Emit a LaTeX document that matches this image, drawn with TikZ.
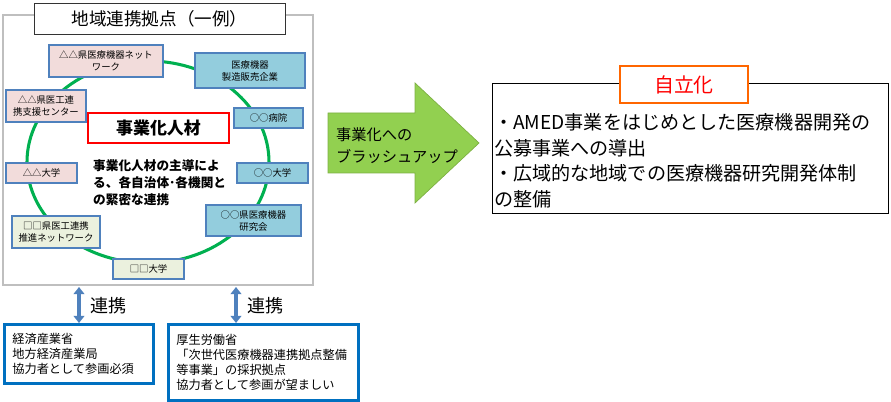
\documentclass[tikz,border=0pt]{standalone}
\usepackage{fontspec}
\setmainfont{Noto Sans CJK JP}
\usetikzlibrary{positioning, arrows.meta}
\definecolor{framegray}{HTML}{BFBFBF}
\definecolor{ringgreen}{HTML}{00B050}
\definecolor{memberblue}{HTML}{4F81BD}
\definecolor{pinkfill}{HTML}{F2DCDB}
\definecolor{bluefill}{HTML}{93CDDD}
\definecolor{creamfill}{HTML}{EBF1DE}
\definecolor{govblue}{HTML}{0070C0}
\definecolor{pitchgreen}{HTML}{92D050}
\definecolor{pitchedge}{HTML}{7DB043}
\definecolor{selforange}{HTML}{FF6600}
\newcommand{\jpsize}[2]{\fontsize{#1}{#2}\selectfont}

\begin{document}
\begin{tikzpicture}[x=0.03cm, y=-0.03cm,
  member/.style={draw=memberblue, line width=1.5pt, align=center,
                 inner sep=1pt, font=\jpsize{8pt}{10.2pt}},
  govbox/.style={draw=govblue, line width=2.4pt, anchor=north west,
                 align=left, inner xsep=0.24cm, inner ysep=0pt,
                 font=\jpsize{10.4pt}{12.8pt}},
  link/.style={{Triangle[length=6pt,width=9pt]}-{Triangle[length=6pt,width=9pt]},
               line width=2.8pt, memberblue},
]
\useasboundingbox (0,0) rectangle (891,402);

% hub frame
\draw[framegray, line width=1.6pt] (3,15) rectangle (313,285);
\node[draw=black!80, line width=0.8pt, fill=white, minimum width=7.53cm,
      minimum height=0.93cm, font=\jpsize{15pt}{18pt}] (hubtitle) at (159.5,18.5) {地域連携拠点（一例）};
\draw[ringgreen, line width=2.6pt] (148,162) ellipse [x radius=3.63cm, y radius=3.03cm];

\node[member, fill=pinkfill, minimum width=3.42cm, minimum height=0.96cm] (nwork1) at (106,61) {△△県医療機器ネット\\ワーク};
\node[member, fill=bluefill, minimum width=3.3cm, minimum height=1.05cm] (maker) at (250,70.5) {医療機器\\製造販売企業};
\node[member, fill=bluefill, minimum width=2.07cm, minimum height=0.6cm] (hosp) at (268.5,118) {○○病院};
\node[member, fill=pinkfill, minimum width=2.4cm, minimum height=0.96cm] (supcen) at (46,106) {△△県医工連\\携支援センター};
\node[member, fill=pinkfill, minimum width=2.13cm, minimum height=0.6cm] (univ1) at (41.5,173) {△△大学};
\node[member, fill=bluefill, minimum width=2.13cm, minimum height=0.6cm] (univ2) at (272.5,173) {○○大学};
\node[member, fill=bluefill, minimum width=2.85cm, minimum height=0.93cm] (kenkyu) at (253.5,220.5) {○○県医療機器\\研究会};
\node[member, fill=creamfill, minimum width=2.64cm, minimum height=0.96cm] (nwork2) at (56,232) {□□県医工連携\\推進ネットワーク};
\node[member, fill=creamfill, minimum width=2.13cm, minimum height=0.6cm] (univ3) at (148.5,269) {□□大学};

\node[draw=red, line width=1.8pt, fill=white, minimum width=4.23cm, minimum height=0.9cm,
      font=\jpsize{14.5pt}{17pt}\bfseries] (jinzai) at (158.5,128) {事業化人材};
\node[anchor=north west, inner sep=0pt, align=left, font=\jpsize{10.8pt}{14.5pt}\bfseries]
  (lead) at (93,159) {事業化人材の主導によ\\る、各自治体･各機関と\\の緊密な連携};

% ministries
\node[govbox, text width=3.99cm, minimum height=1.77cm] (meti) at (3,323)
  {経済産業省\\地方経済産業局\\協力者として参画必須};
\node[govbox, text width=5.22cm, minimum height=2.28cm] (mhlw) at (167,323)
  {厚生労働省\\「次世代医療機器連携拠点整備\\等事業」の採択拠点\\協力者として参画が望ましい};
\coordinate (hubS1) at (79,287);
\coordinate (hubS2) at (236,287);
\draw[link] (hubS1) -- (meti.north -| hubS1);
\draw[link] (hubS2) -- (mhlw.north -| hubS2);
\node[anchor=west, font=\jpsize{15.4pt}{18pt}] (link1) at (86,306) {連携};
\node[anchor=west, font=\jpsize{15.4pt}{18pt}] (link2) at (243,306) {連携};

% brush-up arrow
\draw[fill=pitchgreen, draw=pitchedge, line width=0.6pt]
  (328,113) -- (415,113) -- (415,83) -- (479,143) -- (415,203) -- (415,173) -- (328,173) -- cycle;
\node[anchor=west, inner sep=0pt, align=left, font=\jpsize{13pt}{18.8pt}]
  (pitch) at (336,146) {事業化への\\ブラッシュアップ};

% goal
\draw[black, line width=0.8pt] (492,83) rectangle (888,213);
\node[anchor=north west, inner sep=0pt, align=left, font=\jpsize{16.3pt}{22pt}] (goal) at (494,113)
  {・AMED事業をはじめとした医療機器開発の\\公募事業への導出\\・広域的な地域での医療機器研究開発体制\\の整備};
\node[draw=selforange, line width=2.4pt, fill=white, minimum width=3.84cm, minimum height=1.11cm,
      text=red, font=\jpsize{17pt}{20pt}] (selfrun) at (684,84.5) {自立化};
\end{tikzpicture}
\end{document}
